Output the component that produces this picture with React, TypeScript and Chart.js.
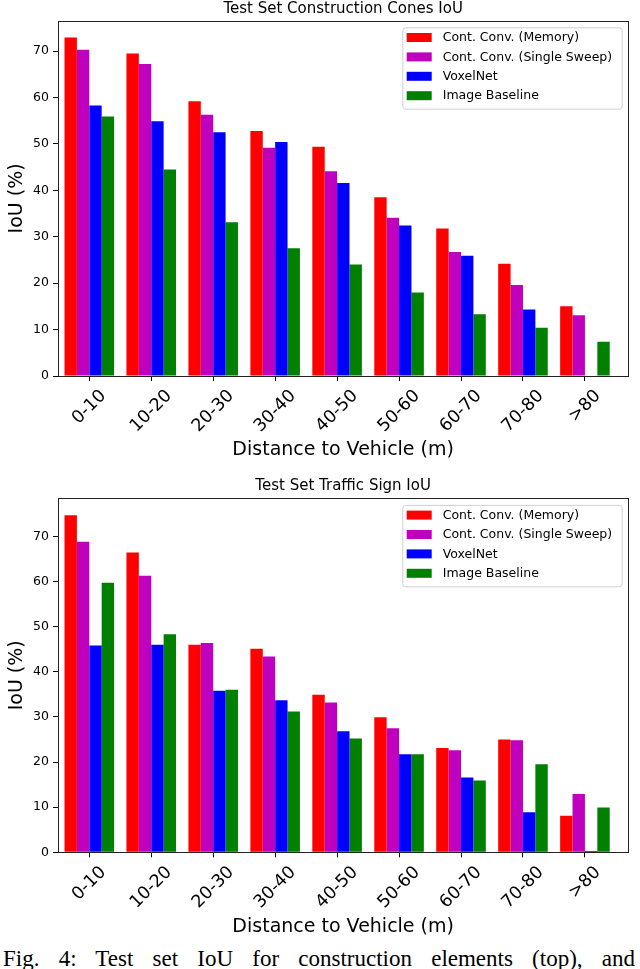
import { useEffect, useRef } from "react";
import { Chart, registerables } from "chart.js";

Chart.register(...registerables);

const FONT = '"DejaVu Sans", sans-serif';

const distances = ["0-10", "10-20", "20-30", "30-40", "40-50", "50-60", "60-70", "70-80", ">80"];
const seriesNames = ["Cont. Conv. (Memory)", "Cont. Conv. (Single Sweep)", "VoxelNet", "Image Baseline"];
const seriesColors = ["#ff0000", "#bf00bf", "#0000ff", "#008000"];
const yTicks = [0, 10, 20, 30, 40, 50, 60, 70];

// construction cones (top)
const conesMemory = [72.9, 69.5, 59.2, 52.8, 49.4, 38.5, 31.8, 24.2, 15.0];
const conesSingle = [70.3, 67.2, 56.3, 49.2, 44.1, 34.1, 26.7, 19.6, 13.1];
const conesVoxel = [58.3, 54.9, 52.5, 50.4, 41.6, 32.4, 25.9, 14.3, 0];
const conesImage = [55.9, 44.5, 33.1, 27.5, 24.0, 18.0, 13.3, 10.4, 7.4];

// traffic signs (bottom)
const signsMemory = [74.7, 66.4, 46.0, 45.1, 34.9, 29.9, 23.1, 25.0, 8.1];
const signsSingle = [68.8, 61.3, 46.4, 43.4, 33.2, 27.5, 22.6, 24.8, 12.9];
const signsVoxel = [45.8, 46.0, 35.8, 33.7, 26.8, 21.7, 16.6, 8.9, 0.3];
const signsImage = [59.7, 48.3, 36.0, 31.2, 25.2, 21.7, 15.9, 19.5, 9.9];

// matplotlib-style frame round the plot area
const framePlugin = {
  id: "frame",
  afterDatasetsDraw(chart: Chart) {
    const { ctx, chartArea: a } = chart;
    ctx.save();
    ctx.strokeStyle = "#222";
    ctx.lineWidth = 1;
    ctx.strokeRect(Math.round(a.left) + 0.5, Math.round(a.top) + 0.5, Math.round(a.right - a.left), Math.round(a.bottom - a.top));
    ctx.restore();
  },
};

// rotated category labels, centred on the tick like matplotlib
const xLabelPlugin = {
  id: "xLabels",
  afterDraw(chart: Chart) {
    const { ctx, chartArea } = chart;
    const scale = chart.scales.x;
    const size = 17.5;
    ctx.save();
    ctx.font = `${size}px ${FONT}`;
    ctx.fillStyle = "#000";
    ctx.textAlign = "center";
    ctx.textBaseline = "middle";
    distances.forEach((label, i) => {
      const x = scale.getPixelForValue(i);
      const w = ctx.measureText(label).width;
      const side = (w + size * 1.17) * Math.SQRT1_2;
      const y = chartArea.bottom + 10 + side / 2;
      ctx.save();
      ctx.translate(x, y);
      ctx.rotate(-Math.PI / 4);
      ctx.fillText(label, 0, 0);
      ctx.restore();
    });
    ctx.restore();
  },
};

const legendPlugin = {
  id: "boxLegend",
  afterDraw(chart: Chart) {
    const { ctx, chartArea: a } = chart;
    const left = a.right - 226;
    const top = a.top + 6.6;
    ctx.save();
    ctx.beginPath();
    ctx.roundRect(left + 0.5, top + 0.5, 219.4, 81.4, 3);
    ctx.fillStyle = "rgba(255,255,255,0.8)";
    ctx.fill();
    ctx.strokeStyle = "#d0d0d0";
    ctx.lineWidth = 1;
    ctx.stroke();
    ctx.font = `12.5px ${FONT}`;
    ctx.textAlign = "left";
    ctx.textBaseline = "middle";
    chart.data.datasets.forEach((ds, i) => {
      const cy = a.top + 16.8 + i * 19.4;
      ctx.fillStyle = ds.backgroundColor as string;
      ctx.fillRect(left + 4.4, cy - 4.5, 25, 9);
      ctx.fillStyle = "#000";
      ctx.fillText(ds.label as string, left + 40.4, cy + 0.5);
    });
    ctx.restore();
  },
};

interface IoUChartProps {
  title: string;
  series: number[][];
  top: number;
  height: number;
  titleY: number;
  plotTop: number;
  xAxisHeight: number;
  xTitleBottom: number;
}

function IoUChart({ title, series, top, height, titleY, plotTop, xAxisHeight, xTitleBottom }: IoUChartProps) {
  const canvasRef = useRef<HTMLCanvasElement | null>(null);

  useEffect(() => {
    if (!canvasRef.current) return;
    const yMax = Math.max(...series.flat()) * 1.05;

    // title centred over the axes, not the whole canvas
    const titlePlugin = {
      id: "axesTitle",
      afterDraw(chart: Chart) {
        const { ctx, chartArea: a } = chart;
        ctx.save();
        ctx.font = `15px ${FONT}`;
        ctx.fillStyle = "#000";
        ctx.textAlign = "center";
        ctx.textBaseline = "middle";
        ctx.fillText(title, (a.left + a.right) / 2, titleY);
        ctx.restore();
      },
    };

    const chart = new Chart(canvasRef.current, {
      type: "bar",
      data: {
        datasets: series.map((values, i) => ({
          label: seriesNames[i],
          data: values.map((v, j) => ({ x: j, y: v })),
          backgroundColor: seriesColors[i],
          borderWidth: 0,
          categoryPercentage: 0.8,
          barPercentage: 1.0,
        })),
      },
      options: {
        animation: false,
        responsive: true,
        maintainAspectRatio: false,
        devicePixelRatio: window.devicePixelRatio || 1,
        layout: { padding: { left: 0, right: 11.7, top: plotTop, bottom: 0 } },
        plugins: {
          legend: { display: false },
          tooltip: { enabled: false },
          title: { display: false },
        },
        scales: {
          x: {
            type: "linear",
            min: -0.505,
            max: 8.7,
            offset: false,
            afterBuildTicks: (s) => {
              s.ticks = distances.map((_, i) => ({ value: i }));
            },
            afterFit: (s) => {
              s.height = xAxisHeight;
            },
            ticks: { display: false },
            grid: { drawOnChartArea: false, drawTicks: true, tickLength: 5, color: "#000", offset: false },
            border: { display: false },
            title: {
              display: true,
              text: "Distance to Vehicle (m)",
              color: "#000",
              font: { family: FONT, size: 19 },
              padding: { top: 0, bottom: xTitleBottom },
            },
          },
          y: {
            min: 0,
            max: yMax,
            afterBuildTicks: (s) => {
              s.ticks = yTicks.map((v) => ({ value: v }));
            },
            afterFit: (s) => {
              s.width = 58;
            },
            ticks: { color: "#000", font: { family: FONT, size: 12.5 }, padding: 4 },
            grid: { drawOnChartArea: false, drawTicks: true, tickLength: 5, color: "#000" },
            border: { display: false },
            title: {
              display: true,
              text: "IoU (%)",
              color: "#000",
              font: { family: FONT, size: 19 },
              padding: { top: 6, bottom: 0 },
            },
          },
        },
      },
      plugins: [framePlugin, xLabelPlugin, legendPlugin, titlePlugin],
    });

    return () => {
      chart.destroy();
    };
  }, [title, series, titleY, plotTop, xAxisHeight, xTitleBottom]);

  return (
    <div style={{ position: "absolute", left: 0, top, width: 640, height }}>
      <canvas ref={canvasRef}></canvas>
    </div>
  );
}

const conesSeries = [conesMemory, conesSingle, conesVoxel, conesImage];
const signsSeries = [signsMemory, signsSingle, signsVoxel, signsImage];

export default function App() {
  return (
    <div
      style={{
        position: "absolute",
        left: 0,
        top: 0,
        width: 640,
        height: 969,
        overflow: "hidden",
        background: "#fff",
      }}
    >
      <IoUChart
        title="Test Set Construction Cones IoU"
        series={conesSeries}
        top={0}
        height={470}
        titleY={8.8}
        plotTop={20.7}
        xAxisHeight={94}
        xTitleBottom={8.6}
      />
      <IoUChart
        title="Test Set Traffic Sign IoU"
        series={signsSeries}
        top={470}
        height={470}
        titleY={15.8}
        plotTop={28.3}
        xAxisHeight={87.7}
        xTitleBottom={1.6}
      />
      <div
        style={{
          position: "absolute",
          left: 3,
          top: 947.4,
          width: 632,
          fontFamily: '"Liberation Serif", "Times New Roman", serif',
          fontSize: 23,
          lineHeight: "23px",
          color: "#000",
          textAlign: "justify",
          textAlignLast: "justify",
        }}
      >
        Fig. 4: Test set IoU for construction elements (top), and
      </div>
    </div>
  );
}
